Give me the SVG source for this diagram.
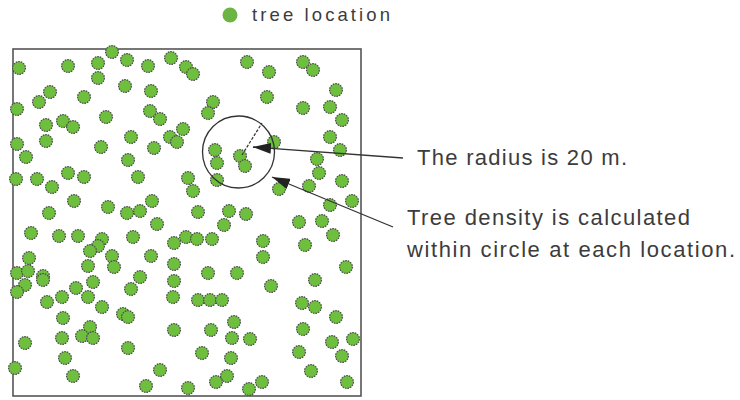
<svg xmlns="http://www.w3.org/2000/svg" xmlns:xlink="http://www.w3.org/1999/xlink" width="740" height="400" viewBox="0 0 740 400">
<style>
.lbl{font-family:"Liberation Sans",Arial,sans-serif;fill:#3c3c3c;}
.t{fill:#6fbf3f;stroke:#4a4a4a;stroke-width:1.2;stroke-dasharray:1.6 1;}
.ln{stroke:#333;stroke-width:1.3;fill:none;}
</style>
<defs>
<circle id="d" class="t" cx="0" cy="0" r="6.4"/>
<marker id="ah" markerUnits="userSpaceOnUse" markerWidth="18" markerHeight="11" refX="18" refY="5.5" orient="auto">
<path d="M0,0 L18,5.5 L0,11 Z" fill="#222"/>
</marker>
</defs>
<rect width="740" height="400" fill="#fff"/>
<g id="legend">
<circle cx="230" cy="15" r="7.5" fill="#6db543"/>
<text class="lbl" x="252" y="21" font-size="18.5" textLength="138" lengthAdjust="spacing">tree location</text>
</g>
<g id="plot">
<rect x="13" y="49" width="348" height="347" fill="none" stroke="#555" stroke-width="1.6"/>
<g id="trees">
<use href="#d" x="19" y="68"/><use href="#d" x="68" y="66"/><use href="#d" x="98" y="63"/><use href="#d" x="112" y="52"/>
<use href="#d" x="127" y="60"/><use href="#d" x="148" y="66"/><use href="#d" x="171" y="58"/><use href="#d" x="186" y="67"/>
<use href="#d" x="193" y="74"/><use href="#d" x="247" y="62"/><use href="#d" x="269" y="72"/><use href="#d" x="303" y="62"/>
<use href="#d" x="313" y="70"/><use href="#d" x="98" y="78"/><use href="#d" x="125" y="86"/><use href="#d" x="151" y="91"/>
<use href="#d" x="50" y="92"/><use href="#d" x="84" y="97"/><use href="#d" x="39" y="102"/><use href="#d" x="17" y="109"/>
<use href="#d" x="106" y="117"/><use href="#d" x="63" y="121"/><use href="#d" x="73" y="127"/><use href="#d" x="46" y="125"/>
<use href="#d" x="213" y="102"/><use href="#d" x="208" y="113"/><use href="#d" x="150" y="111"/><use href="#d" x="160" y="119"/>
<use href="#d" x="183" y="129"/><use href="#d" x="170" y="137"/><use href="#d" x="177" y="142"/><use href="#d" x="131" y="137"/>
<use href="#d" x="154" y="148"/><use href="#d" x="46" y="141"/><use href="#d" x="17" y="144"/><use href="#d" x="101" y="147"/>
<use href="#d" x="26" y="157"/><use href="#d" x="128" y="160"/><use href="#d" x="267" y="97"/><use href="#d" x="336" y="90"/>
<use href="#d" x="303" y="108"/><use href="#d" x="330" y="107"/><use href="#d" x="342" y="120"/><use href="#d" x="330" y="137"/>
<use href="#d" x="274" y="142"/><use href="#d" x="340" y="150"/><use href="#d" x="317" y="159"/><use href="#d" x="215" y="150"/>
<use href="#d" x="217" y="163"/><use href="#d" x="240" y="156"/><use href="#d" x="245" y="166"/><use href="#d" x="217" y="180"/>
<use href="#d" x="16" y="179"/><use href="#d" x="37" y="179"/><use href="#d" x="68" y="173"/><use href="#d" x="84" y="177"/>
<use href="#d" x="52" y="187"/><use href="#d" x="74" y="201"/><use href="#d" x="108" y="207"/><use href="#d" x="127" y="213"/>
<use href="#d" x="49" y="213"/><use href="#d" x="31" y="233"/><use href="#d" x="59" y="236"/><use href="#d" x="78" y="236"/>
<use href="#d" x="102" y="239"/><use href="#d" x="98" y="246"/><use href="#d" x="90" y="251"/><use href="#d" x="112" y="256"/>
<use href="#d" x="29" y="258"/><use href="#d" x="88" y="266"/><use href="#d" x="114" y="267"/><use href="#d" x="17" y="273"/>
<use href="#d" x="28" y="271"/><use href="#d" x="43" y="276"/><use href="#d" x="25" y="285"/><use href="#d" x="93" y="282"/>
<use href="#d" x="133" y="237"/><use href="#d" x="76" y="288"/><use href="#d" x="138" y="177"/><use href="#d" x="188" y="178"/>
<use href="#d" x="193" y="191"/><use href="#d" x="152" y="201"/><use href="#d" x="140" y="211"/><use href="#d" x="198" y="212"/>
<use href="#d" x="229" y="211"/><use href="#d" x="246" y="214"/><use href="#d" x="157" y="224"/><use href="#d" x="224" y="225"/>
<use href="#d" x="186" y="237"/><use href="#d" x="197" y="239"/><use href="#d" x="174" y="243"/><use href="#d" x="212" y="239"/>
<use href="#d" x="151" y="256"/><use href="#d" x="174" y="264"/><use href="#d" x="140" y="277"/><use href="#d" x="208" y="273"/>
<use href="#d" x="237" y="273"/><use href="#d" x="174" y="281"/><use href="#d" x="131" y="289"/><use href="#d" x="319" y="173"/>
<use href="#d" x="342" y="181"/><use href="#d" x="279" y="189"/><use href="#d" x="309" y="186"/><use href="#d" x="330" y="205"/>
<use href="#d" x="352" y="201"/><use href="#d" x="299" y="222"/><use href="#d" x="322" y="221"/><use href="#d" x="333" y="235"/>
<use href="#d" x="263" y="241"/><use href="#d" x="305" y="245"/><use href="#d" x="263" y="257"/><use href="#d" x="346" y="267"/>
<use href="#d" x="315" y="280"/><use href="#d" x="271" y="286"/><use href="#d" x="17" y="292"/><use href="#d" x="43" y="280"/>
<use href="#d" x="47" y="302"/><use href="#d" x="62" y="297"/><use href="#d" x="88" y="297"/><use href="#d" x="102" y="307"/>
<use href="#d" x="123" y="314"/><use href="#d" x="128" y="317"/><use href="#d" x="63" y="318"/><use href="#d" x="90" y="327"/>
<use href="#d" x="82" y="336"/><use href="#d" x="93" y="338"/><use href="#d" x="62" y="338"/><use href="#d" x="25" y="343"/>
<use href="#d" x="128" y="348"/><use href="#d" x="65" y="358"/><use href="#d" x="15" y="368"/><use href="#d" x="73" y="376"/>
<use href="#d" x="173" y="297"/><use href="#d" x="198" y="300"/><use href="#d" x="210" y="300"/><use href="#d" x="222" y="300"/>
<use href="#d" x="234" y="322"/><use href="#d" x="174" y="330"/><use href="#d" x="211" y="330"/><use href="#d" x="232" y="338"/>
<use href="#d" x="250" y="339"/><use href="#d" x="202" y="353"/><use href="#d" x="231" y="358"/><use href="#d" x="160" y="370"/>
<use href="#d" x="227" y="376"/><use href="#d" x="216" y="382"/><use href="#d" x="146" y="386"/><use href="#d" x="188" y="388"/>
<use href="#d" x="249" y="389"/><use href="#d" x="302" y="303"/><use href="#d" x="315" y="307"/><use href="#d" x="336" y="317"/>
<use href="#d" x="303" y="329"/><use href="#d" x="332" y="342"/><use href="#d" x="353" y="339"/><use href="#d" x="342" y="356"/>
<use href="#d" x="299" y="352"/><use href="#d" x="311" y="371"/><use href="#d" x="262" y="382"/><use href="#d" x="347" y="382"/>
</g>
<g id="search-circle">
<circle cx="238.5" cy="152" r="36" fill="none" stroke="#333" stroke-width="1.3"/>
<line x1="242" y1="155" x2="262" y2="123" stroke="#333" stroke-width="1.2" stroke-dasharray="3 1.5"/>
</g>
</g>
<g id="connectors">
<path class="ln" d="M403,158 L253,147" marker-end="url(#ah)"/>
<path class="ln" d="M393,227 L272,177" marker-end="url(#ah)"/>
</g>
<g id="labels">
<text class="lbl" x="417" y="165" font-size="22" textLength="210" lengthAdjust="spacing">The radius is 20 m.</text>
<text class="lbl" x="407" y="225" font-size="22" textLength="283" lengthAdjust="spacing">Tree density is calculated</text>
<text class="lbl" x="407" y="257" font-size="22" textLength="328" lengthAdjust="spacing">within circle at each location.</text>
</g>
</svg>
